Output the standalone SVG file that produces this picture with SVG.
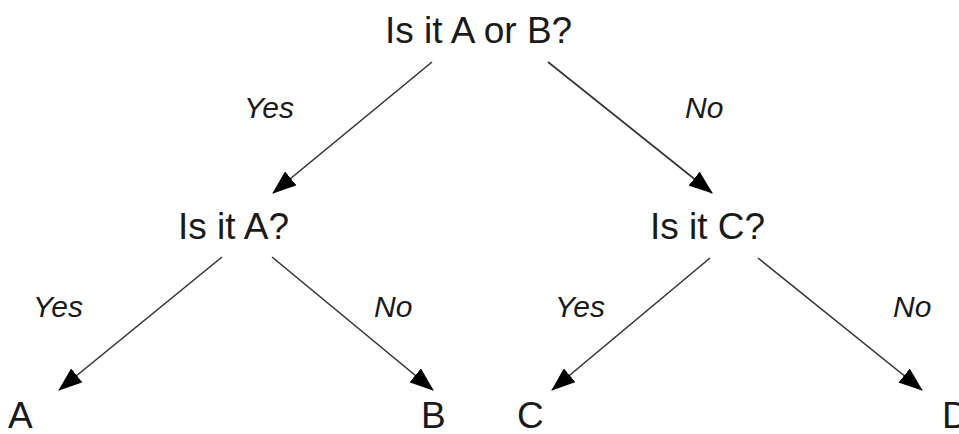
<svg xmlns="http://www.w3.org/2000/svg" width="959" height="434" viewBox="0 0 959 434">
<defs>
<marker id="ah" viewBox="0 0 24 18" refX="23" refY="9" markerWidth="24" markerHeight="18" markerUnits="userSpaceOnUse" orient="auto">
<path d="M0,0 L24,9 L0,18 Z" fill="#000"/>
</marker>
<style>
.q{font-family:"Liberation Sans",Arial,sans-serif;font-size:37px;fill:#1a1a1a}
.l{font-family:"Liberation Sans",Arial,sans-serif;font-size:30px;font-style:italic;fill:#1a1a1a}
.e{stroke:#333;stroke-width:1.6;fill:none;marker-end:url(#ah)}
</style>
</defs>
<rect width="959" height="434" fill="#fff"/>
<g id="connectors">
<line class="e" x1="432" y1="62" x2="273" y2="193"/>
<line class="e" x1="548" y1="62" x2="712" y2="193"/>
<line class="e" x1="222" y1="257" x2="59" y2="390"/>
<line class="e" x1="272" y1="257" x2="433" y2="390"/>
<line class="e" x1="710" y1="258" x2="552" y2="390"/>
<line class="e" x1="758" y1="258" x2="922" y2="390"/>
<text class="l" x="244" y="118">Yes</text>
<text class="l" x="685" y="118">No</text>
<text class="l" x="33" y="317">Yes</text>
<text class="l" x="374" y="317">No</text>
<text class="l" x="555" y="317">Yes</text>
<text class="l" x="893" y="317">No</text>
</g>
<g id="root"><text class="q" x="385" y="43">Is it A or B?</text></g>
<g id="isA"><text class="q" x="178" y="239">Is it A?</text></g>
<g id="isC"><text class="q" x="650" y="239">Is it C?</text></g>
<g id="leafA"><text class="q" x="8" y="428">A</text></g>
<g id="leafB"><text class="q" x="421" y="428">B</text></g>
<g id="leafC"><text class="q" x="517" y="428">C</text></g>
<g id="leafD"><text class="q" x="942" y="428">D</text></g>
</svg>
